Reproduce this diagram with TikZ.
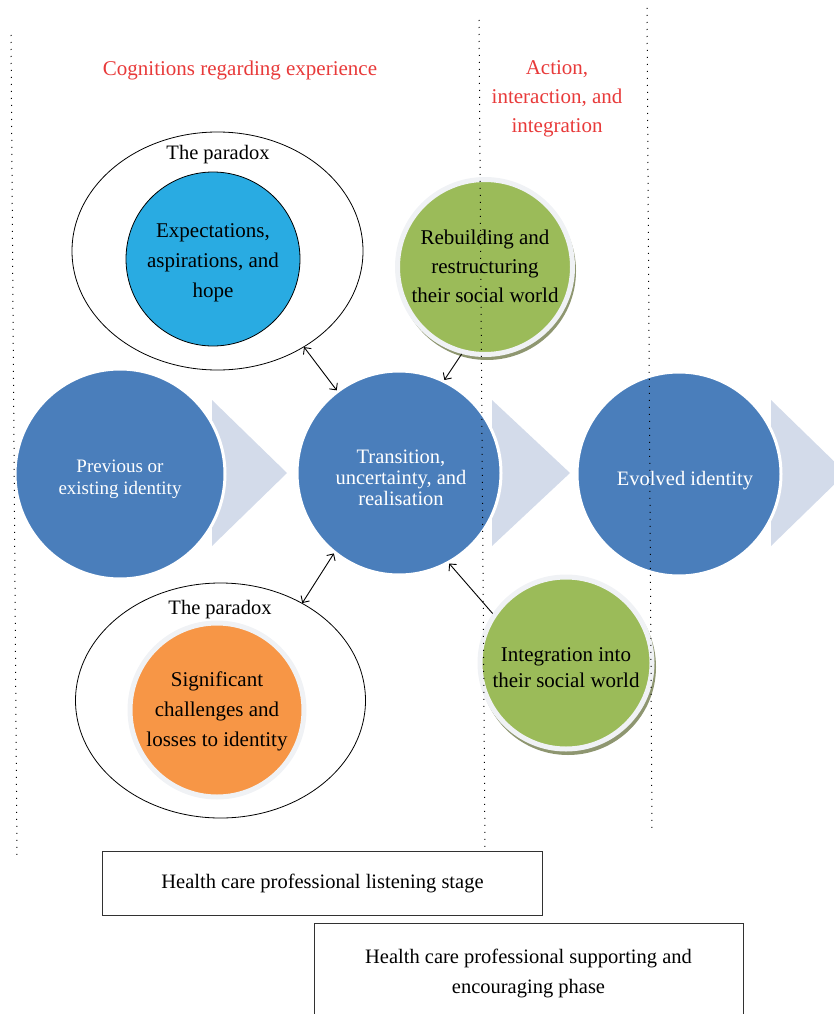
\documentclass[tikz,border=0pt]{standalone}
\usepackage{fontspec}
\setmainfont{Liberation Serif}
\usetikzlibrary{shapes.geometric,arrows.meta}
\definecolor{cblue}{RGB}{74,126,187}
\definecolor{cchev}{RGB}{211,219,234}
\definecolor{clight}{RGB}{41,171,226}
\definecolor{corange}{RGB}{247,150,70}
\definecolor{cgreen}{RGB}{155,187,89}
\definecolor{cring}{RGB}{240,242,245}
\definecolor{cshadow}{RGB}{142,150,112}
\definecolor{cred}{RGB}{232,58,58}
\definecolor{cbox}{RGB}{50,50,50}
\begin{document}
\begin{tikzpicture}[x=1pt,y=-1pt,
  bigcirc/.style={circle, fill=cblue, draw=white, line width=3pt, minimum size=204pt, inner sep=0pt},
  whitetxt/.style={text=white, align=center, inner sep=0pt, font=\fontsize{20.5}{21}\selectfont},
  blacktxt/.style={align=center, inner sep=0pt, font=\fontsize{21}{30}\selectfont},
  chev/.style={fill=cchev, draw=none},
  paradox/.style={ellipse, draw=black, line width=0.8pt, inner sep=0pt},
  plabel/.style={font=\fontsize{20.5}{24}\selectfont},
  innerc/.style={circle, inner sep=0pt},
  greenc/.style={circle, fill=cgreen, draw=cring, line width=5pt, minimum size=175pt, inner sep=0pt},
  shadowc/.style={fill=cshadow, draw=none},
  conn/.style={draw=black, line width=0.9pt},
  dots/.style={draw=black, line width=1pt, dash pattern=on 1pt off 6pt},
  redtxt/.style={text=cred, align=center, font=\fontsize{21}{29}\selectfont},
  boxn/.style={draw=cbox, line width=1pt, align=center, inner sep=0pt, font=\fontsize{20.5}{30}\selectfont}
]
\useasboundingbox (0,0) rectangle (834,1014);
\clip (0,0) rectangle (834,1014);

% chevrons
\fill[chev] (212,400) -- (287,473) -- (212,546) -- cycle;
\fill[chev] (492,400) -- (570,473) -- (492,546) -- cycle;
\fill[chev] (771,400) -- (846,473) -- (771,546) -- cycle;

% big circles
\node[bigcirc, minimum size=210pt] (prev) at (120,474) {};
\node[whitetxt, font=\fontsize{19}{22}\selectfont] (prevtxt) at (120,479) {Previous or\\existing identity};
\node[bigcirc] (trans) at (399,473) {};
\node[whitetxt] (transtxt) at (401,478) {Transition,\\uncertainty, and\\realisation};
\node[bigcirc] (evolved) at (679,474) {};
\node[whitetxt] (evolvedtxt) at (685,481) {Evolved identity};

% paradox ellipses
\node[paradox, minimum width=291pt, minimum height=238pt] (topell) at (217.5,251) {};
\node[plabel] (toplbl) at (218,155) {The paradox};
\node[innerc, fill=clight, draw=black, line width=0.8pt, minimum size=174pt] (hope) at (213,259) {};
\node[blacktxt] (hopetxt) at (213,263) {Expectations,\\aspirations, and\\hope};

\node[paradox, minimum width=290pt, minimum height=235pt] (botell) at (220.5,700.5) {};
\node[plabel] (botlbl) at (220,610) {The paradox};
\node[innerc, fill=corange, draw=cring, line width=5pt, minimum size=174pt] (loss) at (217,710) {};
\node[blacktxt] (losstxt) at (217,711) {Significant\\challenges and\\losses to identity};

% green circles
\fill[shadowc] (487,271) circle[radius=89pt];
\node[greenc] (rebuild) at (485,267) {};
\node[blacktxt, font=\fontsize{21}{29}\selectfont] (rebuildtxt) at (485,266) {Rebuilding and\\restructuring\\their social world};
\fill[shadowc] (568,667) circle[radius=88pt];
\node[greenc, minimum size=172pt] (integ) at (566,663) {};
\node[blacktxt, font=\fontsize{21}{26}\selectfont] (integtxt) at (566,668) {Integration into\\their social world};

% connectors
\draw[conn, {Straight Barb[length=5pt,width=10pt]}-{Straight Barb[length=5pt,width=10pt]}] (topell.-48) -- (trans.127);
\draw[conn, {Straight Barb[length=5pt,width=10pt]}-{Straight Barb[length=5pt,width=10pt]}] (trans.-129) -- (botell.50);
\draw[conn, -{Straight Barb[length=5pt,width=10pt]}] (rebuild.-105) -- (trans.64);
\draw[conn, -{Straight Barb[length=5pt,width=10pt]}] (integ.146) -- (trans.-61);

% red headings
\node[redtxt] (cog) at (240,70) {Cognitions regarding experience};
\node[redtxt] (action) at (557,99) {Action,\\interaction, and\\integration};

% boxes
\node[boxn, minimum width=440pt, minimum height=64pt] (listen) at (322.5,883) {Health care professional listening stage};
\node[boxn, minimum width=429pt, minimum height=100pt] (support) at (528.5,973) {Health care professional supporting and\\encouraging phase};

% dotted stage lines
\draw[dots] (11,35) -- (17,860);
\draw[dots] (479,20) -- (485,850);
\draw[dots] (647,8) -- (652,832);
\end{tikzpicture}
\end{document}
